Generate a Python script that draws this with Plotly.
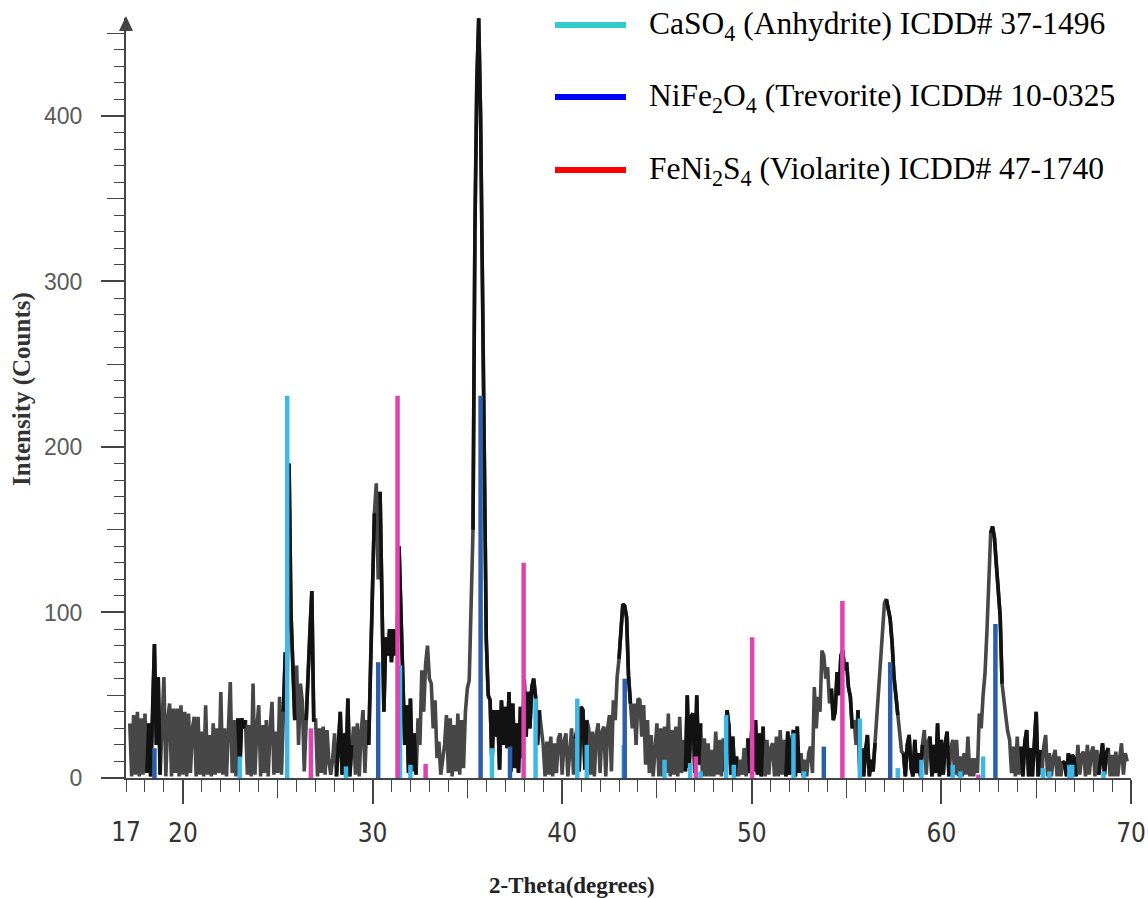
import numpy as np
import plotly.graph_objects as go

# ---------------------------------------------------------------- data
# Measured XRD pattern, 0.1 deg steps starting at 17.2 deg (counts)
counts = [
    33, 1, 38, 2, 40, 1, 36, 2,                      # 17.2-17.9
    39, 3, 33, 1, 34, 81, 20, 61, 2, 30,             # 18
    61, 1, 35, 45, 1, 42, 3, 42, 1, 44,              # 19
    2, 40, 1, 39, 3, 30, 37, 1, 37, 2,               # 20
    28, 1, 44, 2, 26, 1, 33, 2, 30, 3,               # 21
    52, 2, 30, 1, 36, 58, 3, 35, 1, 36,              # 22
    3, 36, 30, 35, 2, 32, 1, 57, 2, 30,              # 23
    44, 1, 32, 3, 35, 1, 30, 46, 2, 28,              # 24
    3, 49, 2, 40, 76, 60, 190, 100, 72, 35,          # 25
    68, 20, 57, 46, 4, 35, 60, 90, 113, 35,          # 26
    35, 1, 30, 3, 31, 2, 29, 10, 2, 12,              # 27
    27, 1, 18, 40, 2, 27, 3, 48, 1, 20,              # 28
    31, 2, 33, 1, 28, 41, 3, 35, 20, 71,             # 29
    110, 160, 178, 120, 173, 88, 40, 85, 74, 90,     # 30
    70, 90, 74, 80, 140, 100, 51, 20, 44, 3,         # 31
    48, 4, 27, 2, 36, 20, 65, 40, 69, 80,            # 32
    60, 57, 30, 47, 12, 22, 2, 10, 20, 38,           # 33
    3, 36, 1, 32, 4, 39, 2, 35, 6, 40,               # 34
    54, 59, 110, 150, 330, 420, 459, 400, 300, 200,  # 35
    84, 50, 47, 8, 41, 25, 41, 5, 47, 20,            # 36
    43, 18, 52, 4, 45, 6, 33, 3, 43, 12,            # 37
    60, 25, 52, 30, 55, 60, 49, 20, 41, 30,          # 38
    20, 1, 22, 2, 25, 1, 21, 3, 24, 27,              # 39
    2, 22, 27, 1, 20, 30, 2, 24, 30, 4,              # 40
    43, 41, 5, 35, 30, 2, 28, 1, 26, 33,             # 41
    3, 28, 31, 1, 30, 38, 4, 47, 35, 61,             # 42
    72, 88, 105, 104, 97, 62, 45, 30, 45, 20,        # 43
    48, 47, 25, 44, 8, 35, 3, 26, 1, 15,             # 44
    33, 1, 30, 1, 31, 3, 39, 1, 29, 2,               # 45
    31, 1, 37, 3, 23, 4, 50, 6, 37, 39,              # 46
    3, 50, 8, 33, 1, 24, 1, 21, 1, 17,               # 47
    1, 28, 2, 23, 1, 24, 4, 41, 31, 2,               # 48
    25, 1, 13, 1, 11, 2, 18, 1, 24, 3,               # 49
    29, 4, 35, 2, 27, 1, 31, 1, 23, 2,               # 50
    18, 21, 1, 25, 1, 29, 2, 23, 1, 28,              # 51
    2, 22, 29, 1, 31, 3, 15, 1, 11, 1,               # 52
    15, 19, 3, 55, 30, 49, 40, 77, 74, 60,           # 53
    67, 45, 54, 35, 40, 64, 50, 74, 77, 65,          # 54
    70, 55, 49, 30, 35, 20, 41, 3, 18, 1,            # 55
    17, 26, 1, 11, 4, 21, 39, 50, 67, 88,            # 56
    106, 108, 103, 96, 82, 61, 50, 38, 27, 16,       # 57
    15, 1, 20, 26, 6, 1, 23, 3, 15, 1,               # 58
    20, 29, 2, 22, 25, 1, 20, 3, 33, 1,              # 59
    23, 2, 20, 28, 1, 18, 23, 2, 23, 1,              # 60
    13, 1, 15, 2, 25, 1, 12, 1, 12, 3,               # 61
    39, 30, 50, 63, 88, 122, 148, 152, 145, 128,     # 62
    110, 98, 57, 45, 37, 28, 23, 3, 19, 1,           # 63
    25, 2, 19, 1, 22, 29, 1, 18, 1, 20,              # 64
    40, 1, 17, 2, 19, 26, 1, 15, 1, 12,              # 65
    17, 1, 13, 1, 10, 9, 1, 15, 2, 14,               # 66
    12, 1, 20, 2, 14, 16, 1, 20, 2, 15,              # 67
    19, 1, 17, 2, 14, 21, 2, 15, 18, 1,              # 68
    14, 1, 16, 1, 12, 21, 2, 15, 10,                 # 69.0-69.8
]
scan_start = 17.2
scan_step = 0.1

# Reference stick patterns (2-theta, scaled intensity)
anhydrite_pos = [23.0, 25.5, 28.6, 31.45, 32.0, 36.3, 38.6, 40.8, 41.3, 43.25,
                 45.4, 46.75, 47.3, 48.65, 49.05, 52.2, 52.75, 55.7, 57.7,
                 58.95, 60.6, 61.0, 62.2, 65.35, 65.7, 66.75, 66.9, 68.55]
anhydrite_int = [13, 231, 7, 68, 8, 18, 48, 48, 20, 20,
                 11, 9, 4, 38, 8, 27, 4, 36, 6,
                 11, 8, 4, 13, 6, 4, 8, 8, 4]

trevorite_pos = [18.5, 30.3, 35.7, 37.25, 43.3, 53.8, 57.3, 62.85]
trevorite_int = [18, 70, 231, 19, 60, 19, 70, 93]

violarite_pos = [26.75, 31.32, 32.8, 37.97, 47.05, 50.02, 54.78, 61.95]
violarite_int = [30, 231, 8.5, 130, 13, 85, 107, 2]

# Stretches of the trace printed in the darker ink
dark_spans = [(18.1, 18.8), (22.9, 23.3), (25.3, 25.9), (26.5, 27.0), (28.1, 28.9),
              (29.8, 30.1), (30.4, 31.9), (32.0, 32.3), (35.3, 36.0), (36.1, 38.8),
              (40.7, 41.3), (43.0, 43.6), (46.5, 47.3), (48.6, 49.2), (49.8, 50.6),
              (51.8, 52.5), (54.2, 55.3), (55.6, 56.5), (57.1, 57.7), (58.0, 59.0),
              (59.4, 60.4), (62.6, 63.2), (64.2, 65.2), (66.4, 67.1), (68.3, 68.8)]

x_ticks = [20, 30, 40, 50, 60, 70]
x_mid_ticks = [25, 35, 45, 55, 65]
y_ticks = [0, 100, 200, 300, 400]
y_mid_ticks = [50, 150, 250, 350, 450]

legend_labels = [
    "CaSO<sub>4</sub> (Anhydrite) ICDD# 37-1496",
    "NiFe<sub>2</sub>O<sub>4</sub> (Trevorite) ICDD# 10-0325",
    "FeNi<sub>2</sub>S<sub>4</sub> (Violarite) ICDD# 47-1740",
]
legend_colors = ["#33CCCC", "#0000FF", "#FF0000"]

# ---------------------------------------------------------------- geometry
W, H = 1148, 898
L, R, T, B = 126, 17, 18, 120
X_RANGE = [17, 70]
Y_RANGE = [0, 459.2]
plot_w = W - L - R
plot_h = H - T - B


def px_x(px):
    return (px - L) / plot_w


def px_y(py):
    return (H - B - py) / plot_h


two_theta = scan_start + scan_step * np.arange(len(counts))
counts_arr = np.array(counts, dtype=float)

fig = go.Figure()


def sticks(pos, heights):
    xs, ys = [], []
    for p, h in zip(pos, heights):
        xs += [p, p, None]
        ys += [0, h, None]
    return xs, ys


TRACE_W = 3.6

# measured pattern, grey ink
fig.add_trace(go.Scatter(
    x=two_theta, y=counts_arr, mode="lines",
    line=dict(color="#474747", width=TRACE_W), hoverinfo="skip", cliponaxis=False))

# darker ink segments of the same pattern
dark_mask = np.zeros(len(two_theta), dtype=bool)
for a, b in dark_spans:
    dark_mask |= (two_theta >= a - 1e-6) & (two_theta <= b + 1e-6)
dark_y = [v if m else None for v, m in zip(counts_arr, dark_mask)]
fig.add_trace(go.Scatter(
    x=two_theta, y=dark_y, mode="lines", connectgaps=False,
    line=dict(color="#121212", width=TRACE_W), hoverinfo="skip", cliponaxis=False))

# reference stick patterns
for pos, hts, col in [(anhydrite_pos, anhydrite_int, "#3DB9E8"),
                      (trevorite_pos, trevorite_int, "#2B5EAB"),
                      (violarite_pos, violarite_int, "#E043B0")]:
    xs, ys = sticks(pos, hts)
    fig.add_trace(go.Scatter(x=xs, y=ys, mode="lines",
                             line=dict(color=col, width=4.5),
                             hoverinfo="skip"))

# carriers for the extra tick axes
for xa, ya in [("x2", "y"), ("x3", "y"), ("x", "y2")]:
    fig.add_trace(go.Scatter(x=[17], y=[0], xaxis=xa, yaxis=ya, mode="markers",
                             marker=dict(opacity=0), hoverinfo="skip"))

axis_col = "#444444"
xfont = dict(family="Liberation Sans Narrow, Arial Narrow, DejaVu Sans Condensed, sans-serif",
             size=26, color="#333333")
yfont = dict(family="Liberation Sans, Arial, sans-serif", size=23, color="#5a5a5a")

fig.update_layout(
    width=W, height=H, autosize=False,
    margin=dict(l=L, r=R, t=T, b=B, pad=0, autoexpand=False),
    paper_bgcolor="white", plot_bgcolor="white",
    showlegend=False,
    xaxis=dict(range=X_RANGE, tickmode="array", tickvals=x_ticks,
               ticks="outside", ticklen=24, tickwidth=1.5, tickcolor=axis_col,
               showline=True, linecolor=axis_col, linewidth=2, automargin=False,
               showgrid=False, zeroline=False, tickfont=xfont,
               ticklabelstandoff=7,
               minor=dict(tick0=17, dtick=1, ticks="outside", ticklen=12,
                          tickwidth=1.2, tickcolor=axis_col, showgrid=False)),
    xaxis2=dict(overlaying="x", anchor="y", side="bottom", range=X_RANGE,
                tickmode="array", tickvals=x_mid_ticks, ticks="outside",
                ticklen=19, tickwidth=1.2, tickcolor=axis_col, automargin=False,
                showticklabels=False, showgrid=False, zeroline=False, showline=False),
    xaxis3=dict(overlaying="x", anchor="y", side="bottom", range=X_RANGE,
                tickmode="array", tickvals=[17], ticktext=["17"], ticks="outside",
                ticklen=24, tickcolor="rgba(0,0,0,0)", tickfont=xfont,
                ticklabelstandoff=7, automargin=False,
                showgrid=False, zeroline=False, showline=False),
    yaxis=dict(range=Y_RANGE, tickmode="array", tickvals=y_ticks,
               ticks="outside", ticklen=23, tickwidth=1.5, tickcolor=axis_col,
               showline=True, linecolor=axis_col, linewidth=2, automargin=False,
               showgrid=False, zeroline=False, tickfont=yfont,
               ticklabelstandoff=14,
               minor=dict(dtick=10, tick0=0, ticks="outside", ticklen=10,
                          tickwidth=1.2, tickcolor=axis_col, showgrid=False)),
    yaxis2=dict(overlaying="y", anchor="x", side="left", range=Y_RANGE,
                tickmode="array", tickvals=y_mid_ticks, ticks="outside",
                ticklen=18, tickwidth=1.2, tickcolor=axis_col, automargin=False,
                showticklabels=False, showgrid=False, zeroline=False, showline=False),
)

shapes = []
# arrowhead on the intensity axis
shapes.append(dict(type="path", xref="paper", yref="paper",
                   path=f"M {px_x(L - 7)} {px_y(31)} L {px_x(L + 7)} {px_y(31)} "
                        f"L {px_x(L)} {px_y(16)} Z",
                   fillcolor=axis_col, line=dict(width=0)))

annotations = []
row_y = [25, 97, 170]
for lab, col, ry in zip(legend_labels, legend_colors, row_y):
    shapes.append(dict(type="line", xref="paper", yref="paper",
                       x0=px_x(555), x1=px_x(626), y0=px_y(ry), y1=px_y(ry),
                       line=dict(color=col, width=6)))
    annotations.append(dict(xref="paper", yref="paper", x=px_x(647), y=px_y(ry + 1),
                            xanchor="left", yanchor="middle", showarrow=False,
                            text=lab,
                            font=dict(family="Liberation Serif, Times New Roman, serif",
                                      size=31.5, color="black")))

annotations.append(dict(xref="paper", yref="paper", x=px_x(22), y=px_y(389),
                        xanchor="center", yanchor="middle", showarrow=False,
                        textangle=-90, text="Intensity (Counts)",
                        font=dict(family="Liberation Serif, Times New Roman, serif",
                                  size=25, color="#333333", weight="bold")))
annotations.append(dict(xref="paper", yref="paper", x=px_x(572), y=px_y(885),
                        xanchor="center", yanchor="middle", showarrow=False,
                        text="2-Theta(degrees)",
                        font=dict(family="Liberation Serif, Times New Roman, serif",
                                  size=23, color="#222222", weight="bold")))

fig.update_layout(shapes=shapes, annotations=annotations)

fig.write_html("out.html")
